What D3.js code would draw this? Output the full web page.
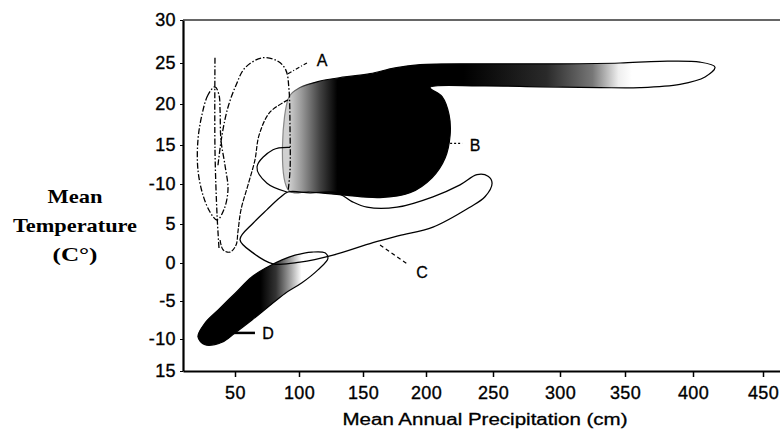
<!DOCTYPE html>
<html>
<head>
<meta charset="utf-8">
<script src="https://cdnjs.cloudflare.com/ajax/libs/d3/7.8.5/d3.min.js"></script>
<style>
body { margin: 0; background: #fff; }
svg { display: block; }
.axis text { font-family: "Liberation Sans", Arial, sans-serif; font-size: 18px; fill: #000; stroke: #000; stroke-width: 0.35px; letter-spacing: 0.4px; }
.axis path, .axis line { stroke: #000; }
.tag { font-family: "Liberation Sans", Arial, sans-serif; font-size: 16px; fill: #000; stroke: #000; stroke-width: 0.3px; }
</style>
</head>
<body>
<div id="chart"></div>
<script>
// printed ticks
var xTicks = [50, 100, 150, 200, 250, 300, 350, 400, 450];
var yTicks = [30, 25, 20, 15, 10, 5, 0, -5, -10, -15];
var yTickLabels = ["30", "25", "20", "15", "-10", "5", "0", "-5", "-10", "15"]; // as printed

// outlines, [precipitation (cm), temperature (C)]
var regionB = [[92,20.8],[100.8,22],[116.4,22.8],[135.9,23.3],[155.6,23.7],[175.4,24.4],[195.2,24.8],[240.3,24.9],
	[300,24.9],[346.2,25],[375.7,25.2],[405,25.1],[415.7,24.5],[408.6,23.3],[390.4,22.4],[361,22],[330.8,22],
	[285.1,22.1],[240.3,22.2],[203,22],[212,20.9],[217.2,18.7],[218,16.2],[214.2,13.3],[204.5,10.8],[187.3,8.9],
	[163.5,8.3],[135.9,8.6],[108.6,9],[92,9.2]];
var regionC = [[91.4,9],[108.6,8.9],[129.7,8.9],[141.4,7.8],[153.2,7.1],[177,7.1],[205.2,8.4],[225.4,9.9],
	[238.1,11.2],[246.3,11],[249.3,10.1],[244,8.4],[232.8,7.1],[205.2,4.6],[178.6,3.5],[157.9,2.6],[126.6,1],
	[100.8,0.1],[79.7,-0.1],[64.1,1.3],[53.9,3],[64.1,5.1],[75,6.8],[85.2,8.3]];
var regionD = [[21.5,-9.7],[26.9,-7.9],[36.9,-6.2],[50,-4],[63.3,-1.8],[75.8,-0.5],[86.7,0.4],[96.9,1],[110.1,1.4],
	[120.3,1.3],[122.6,0.6],[114.8,-0.9],[102.3,-2.6],[89.1,-4],[75.8,-5.8],[63.3,-7.5],[50,-9.2],[40,-10.5],[26.9,-10.9]];
// region A is a bundle of dash-dot outlines
var aNarrow = [[34.6,22.1],[29.2,21.1],[24.6,18.7],[21.5,15.6],[21.5,11.8],[25.4,8.6],[30.8,6.5],[36.2,5.5],
	[41.5,6.8],[44.6,9.3],[42.3,12.4],[39.2,15.6],[38.5,19.3],[37.7,21.1]];
var aStem = [[34.6,25.6],[34.6,14.4],[36.2,6.1],[37.7,1.9]];
var aArch = [[36.9,12.4],[40,16.2],[44.6,19.6],[50.8,22.3],[57.8,24.4],[71.1,25.6],[83.6,25.2],[89.8,24.1],
	[92.2,21.7],[93,16.8],[93,11.8],[91.4,9]];
var aSweep = [[91.4,20.5],[77.3,19],[68.8,16.2],[65.6,13.1],[60.2,9.9],[54.7,6.8],[52.3,4],[50.8,2.3],[46.2,1.4],
	[40.8,1.7],[38.5,3]];
var aHook = [[93,14.7],[79.7,14.4],[67.2,12.2],[75,10.1],[90.6,9]];

// shading along precipitation
var bShade = [[92,"#d0d0d0"],[102,"#999"],[116,"#444"],[130,"#000"],[228,"#000"],[290,"#2a2a2a"],[325,"#777"],[345,"#eee"],[355,"#fff"]];
var bEdge = [[92,"#888"],[112,"#000"]];
var dShade = [[70,"#000"],[82,"#333"],[94,"#aaa"],[102,"#fff"]];

var tagNames = ["A", "B", "C", "D"];
var tagAt = [[118,25.3],[236.6,15],[196.8,-1.2],[75.8,-9.3]];
var leaders = [[[91.4,23.7],[106.2,25]], [[218,15.2],[227,15.2]], [[163.5,2.3],[184.9,-0.1]], [[47.7,-9.2],[65.6,-9.2]]];

var width = 780, height = 433;

// the scanned axes are not evenly spaced, so the scales run piecewise through the printed ticks
var x = d3.scaleLinear()
	.domain([10].concat(xTicks, [462]))
	.range([183, 235, 299, 363, 426, 493, 560, 625, 693, 763, 780]);
var y = d3.scaleLinear()
	.domain(yTicks)
	.range([20, 63, 104, 145, 184, 224, 263, 301, 339, 371]);

var svg = d3.select("#chart").append("svg").attr("width", width).attr("height", height);
svg.append("rect").attr("width", width).attr("height", height).attr("fill", "#fff");

var defs = svg.append("defs");
function shade(id, stops){
	var g = defs.append("linearGradient").attr("id", id)
		.attr("gradientUnits", "userSpaceOnUse")
		.attr("x1", 0).attr("x2", width).attr("y1", 0).attr("y2", 0);
	g.selectAll("stop").data(stops).enter().append("stop")
		.attr("offset", function(d){ return x(d[0]) / width; })
		.attr("stop-color", function(d){ return d[1]; });
}
shade("shadeB", bShade);
shade("edgeB", bEdge);
shade("shadeD", dShade);

var loopLine = d3.line().x(function(d){ return x(d[0]); }).y(function(d){ return y(d[1]); })
	.curve(d3.curveCatmullRomClosed.alpha(0.5));
var openLine = d3.line().x(function(d){ return x(d[0]); }).y(function(d){ return y(d[1]); })
	.curve(d3.curveCatmullRom.alpha(0.5));

var plot = svg.append("g");

plot.append("path").attr("d", loopLine(regionD))
	.attr("fill", "url(#shadeD)").attr("stroke", "#000").attr("stroke-width", 1.2);
plot.append("path").attr("d", loopLine(regionB))
	.attr("fill", "url(#shadeB)").attr("stroke", "url(#edgeB)").attr("stroke-width", 1.2);
plot.append("path").attr("d", loopLine(regionC))
	.attr("fill", "none").attr("stroke", "#000").attr("stroke-width", 1.3);

var dashDot = "6,2,1.5,2";
plot.append("path").attr("d", loopLine(aNarrow))
	.attr("fill", "none").attr("stroke", "#000").attr("stroke-width", 1.3).attr("stroke-dasharray", dashDot);
[aStem, aArch].forEach(function(pts){
	plot.append("path").attr("d", openLine(pts))
		.attr("fill", "none").attr("stroke", "#000").attr("stroke-width", 1.3).attr("stroke-dasharray", dashDot);
});
plot.append("path").attr("d", openLine(aSweep))
	.attr("fill", "none").attr("stroke", "#000").attr("stroke-width", 1.2).attr("stroke-dasharray", "5,1.5");
plot.append("path").attr("d", openLine(aHook))
	.attr("fill", "none").attr("stroke", "#000").attr("stroke-width", 1.2);

// leader lines to the letters
var leaderDash = ["4,2,1,2", "2,2", "4,3", null];
var leaderWidth = [1.2, 1.2, 1.2, 2.5];
leaders.forEach(function(pts, i){
	plot.append("line")
		.attr("x1", x(pts[0][0])).attr("y1", y(pts[0][1]))
		.attr("x2", x(pts[1][0])).attr("y2", y(pts[1][1]))
		.attr("stroke", "#000").attr("stroke-width", leaderWidth[i])
		.attr("stroke-dasharray", leaderDash[i]);
});
plot.selectAll("text.tag").data(tagNames).enter().append("text")
	.attr("class", "tag")
	.attr("x", function(d, i){ return x(tagAt[i][0]); })
	.attr("y", function(d, i){ return y(tagAt[i][1]); })
	.attr("dy", "0.36em")
	.attr("text-anchor", "middle")
	.text(function(d){ return d; });

// axes and frame
var xAxis = svg.append("g").attr("class", "axis x")
	.attr("transform", "translate(0," + y(-15) + ")")
	.call(d3.axisBottom(x).tickValues(xTicks).tickSize(6).tickSizeOuter(0).tickPadding(9));
xAxis.select(".domain").attr("stroke-width", 2.2);
xAxis.selectAll(".tick line").attr("stroke-width", 1.5);

var yAxis = svg.append("g").attr("class", "axis y")
	.attr("transform", "translate(" + x(10) + ",0)")
	.call(d3.axisLeft(y).tickValues(yTicks).tickSize(3).tickSizeOuter(0).tickPadding(4)
		.tickFormat(function(d, i){ return yTickLabels[i]; }));
yAxis.select(".domain").attr("stroke-width", 2.2);
svg.selectAll(".axis").attr("font-size", null).attr("font-family", null);

svg.append("line")
	.attr("x1", x(10)).attr("x2", x(462)).attr("y1", y(30)).attr("y2", y(30))
	.attr("stroke", "#333").attr("stroke-width", 1.5);

svg.append("text")
	.attr("x", 485).attr("y", 425)
	.attr("text-anchor", "middle")
	.attr("textLength", 285).attr("lengthAdjust", "spacingAndGlyphs")
	.style("font-family", "'Liberation Sans', Arial, sans-serif").style("font-size", "16px")
	.style("stroke", "#000").style("stroke-width", "0.3px")
	.text("Mean Annual Precipitation (cm)");

var yTitle = [["Mean", 203, 55], ["Temperature", 232, 124], ["(C°)", 261, 45]];
svg.selectAll("text.ytitle").data(yTitle).enter().append("text")
	.attr("class", "ytitle")
	.attr("x", 75).attr("y", function(d){ return d[1]; })
	.attr("text-anchor", "middle")
	.attr("textLength", function(d){ return d[2]; }).attr("lengthAdjust", "spacingAndGlyphs")
	.style("font-family", "'Liberation Serif', 'Times New Roman', serif")
	.style("font-size", "19px").style("font-weight", "bold")
	.text(function(d){ return d[0]; });
</script>
</body>
</html>
